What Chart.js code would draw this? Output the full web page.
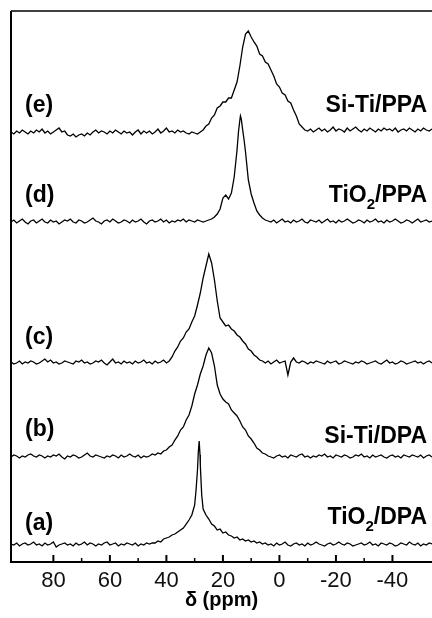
<!DOCTYPE html>
<html>
<head>
<meta charset="utf-8">
<script src="https://cdn.jsdelivr.net/npm/chart.js@4.4.0/dist/chart.umd.min.js"></script>
<style>
  html, body { margin: 0; padding: 0; background: #fff; }
</style>
</head>
<body>
<canvas id="nmrChart" width="432" height="618"></canvas>
<script>
// chemical shift grid, ppm (axis runs right to left)
const ppm = [
  95, 94, 93, 92, 91, 90, 89, 88, 87, 86, 85, 84, 83, 82, 81, 80, 79, 78, 77, 76,
  75, 74, 73, 72, 71, 70, 69, 68, 67, 66, 65, 64, 63, 62, 61, 60, 59, 58, 57, 56,
  55, 54, 53, 52, 51, 50, 49, 48, 47, 46, 45, 44, 43, 42, 41, 40, 39, 38, 37, 36,
  35, 34, 33, 32, 31, 30, 29, 28, 27, 26, 25, 24, 23, 22, 21, 20, 19, 18, 17, 16,
  15, 14, 13, 12, 11, 10, 9, 8, 7, 6, 5, 4, 3, 2, 1, 0, -1, -2, -3, -4,
  -5, -6, -7, -8, -9, -10, -11, -12, -13, -14, -15, -16, -17, -18, -19, -20, -21, -22, -23, -24,
  -25, -26, -27, -28, -29, -30, -31, -32, -33, -34, -35, -36, -37, -38, -39, -40, -41, -42, -43, -44,
  -45, -46, -47, -48, -49, -50, -51, -52, -53, -54
]

// intensities (same units as the stacked y axis)
const specA = [
  1, 0, 2, -1, 1, 2, 0, 1, 3, 0, 1, -1, 2, 0, 1, 3, -2, 0, 1, 2,
  0, 1, -1, 2, 0, 1, 3, 0, 2, 1, -1, 1, 0, 2, 3, 0, 1, 2, -1, 1,
  0, 2, 1, 0, 2, -1, 1, 0, 2,
  1, 2, 2, 4, 3, 6, 7, 8, 10, 11, 13, 15, 17, 21, 25, 30, 40, 75, 80, 36,
  30, 26, 21, 19, 15, 16, 12, 13, 10, 9, 7, 8, 5, 6, 4, 5, 3, 4, 2, 3,
  1, 2,
  0, 1, -1, 2, 0, 1, 3, 0, -1, 1, 2, 0, 1, -1, 2, 0, 1, 3, 1, 0,
  -1, 1, 2, 0, 1, 3, 1, 0, 2, 1, -1, 0, 1, 2, 0, 1, 3, 0, 1, -1,
  2, 1, 0, 2, 1, -1, 0, 2, 1, 0, 3, 1, 0, 2, -1, 1, 0, 2, 1
]
const specB = [
  0, 2, 1, -1, 1, 0, 2, 3, 1, 0, 2, 1, -1, 1, 0, 2, 1, 3, 0, -2,
  1, 0, 2, 1, -1, 0, 2, 4, 1, 0, 2, 1, 0, -1, 1, 0, 2, 1, -1, 2,
  0, 1, 3, 1, 0, 2, -1, 1, 0,
  1, 3, 2, 4, 3, 6, 7, 10, 12, 17, 21, 27, 30, 37, 42, 51, 63, 72, 83, 91,
  102, 109, 104, 91, 72, 63, 58, 55, 53, 47, 44, 41, 36, 30, 27, 21, 18, 14, 9, 7,
  4, 3, 1,
  0, -1, 1, 2, 0, 1, -1, 2, 1, 0, 2, 3, 0, 1, -1, 1, 0, 2, 1, 3,
  0, 1, -1, 2, 1, 0, 2, 1, -1, 0, 2, 1, 3, 0, 1, -1, 2, 0, 1, 2,
  0, -1, 1, 2, 0, 1, -1, 2, 1, 0, 2, 1, 0, 2, -1, 1, 2, 0
]
const specC = [
  1, -1, 0, 2, -1, 1, 0, 2, 1, -1, 0, 2, 4, 1, 3, 0, 1, -1, 0, 2,
  1, 0, -1, 2, 1, 3, 0, 1, -1, 0, 2, 1, 3, 0, -2, 1, 4, 0, 1, -1,
  2, 0, 1, -1, 2, 0, 1, 3, 0, 1, -1, 2, 0, 1, 3, 0,
  2, 6, 12, 16, 22, 25, 31, 34, 41, 47, 58, 70, 85, 97, 109, 100, 83, 62, 45, 41,
  37, 38, 34, 32, 28, 26, 22, 19, 14, 12, 8, 6, 3, 2,
  0, 2, -1, 1, 3, 0, 1, 2, -12, 1, 5, 1, 0, 2, 1, -1, 1, 0, 2, 1,
  0, -1, 2, 0, 1, 2, -1, 0, 2, 1, 0, -1, 1, 0, 2, 1, -1, 0, 1, 2,
  0, -1, 1, 3, 0, 1, -1, 0, 2, 1, -1, 0, 1, 2, 0, 1, -1, 1, 2, 0
]
const specD = [
  0, 2, -1, 1, 3, 0, -2, 1, 2, -1, 1, 3, 0, -1, 2, 0, 1, -2, 0, 2,
  1, 3, 0, -1, 2, 1, -1, 0, 2, 4, 1, 0, -2, 1, 2, 0, 3, 1, -1, 0,
  2, 1, -1, 2, 0, 1, 3, 0, -2, 1, 2, 0, 1, 3, 0, 2, -1, 1, 0, 2,
  1, 3, 0, 2, 1, 0, 2, 1, 0, 1,
  2, 3, 5, 8, 13, 24, 27, 23, 29, 45, 72, 102, 92, 70, 42, 28, 19, 11, 7, 4,
  2,
  1, 0, 2, -1, 1, 3, 0, 1, -1, 2, 0, 1, 3, 0, -1, 2, 1, 0, 2, -1,
  1, 3, 0, 1, -1, 2, 0, 1, 3, 1, -1, 0, 2, 1, -1, 2, 0, 1, 3, 0,
  1, -1, 2, 0, 1, 3, 1, -1, 0, 2, 1, -1, 1, 3, 0, 1, 2, 0, 1
]
const specE = [
  1, -1, 2, 0, 3, 1, -1, 2, 0, 3, 1, 4, 0, 2, -1, 1, 3, 5, 1, 2,
  -2, -3, -1, -4, -2, -1, -3, 0, -2, 1, 3, 0, 2, 1, -1, 2, 0, 3, 1, -1,
  2, 0, 1, -2, 1, 3, -1, 2, 0, 2, -1, 1, 4, 0, 2, 5, 1, 2, 0, 3,
  1, 2, 0, -1, 1, 0, -1, 1,
  3, 7, 9, 15, 18, 25, 27, 31, 31, 35, 35, 43, 51, 67, 86, 99, 102, 96, 91, 87,
  79, 77, 71, 69, 63, 57, 49, 46, 40, 38, 32, 30, 23, 17, 9, 6, 3,
  2, 4, 1, 3, 5, 2, 4, 1, 3, 6, 2, 4, 3, 1, 5, 2, 4, 6, 3, 1,
  4, 2, 5, 3, 1, 4, 2, 5, 3, 4, 2, 5, 1, 3, 4, 2, 5, 3, 1, 4,
  2, 5, 3, 2, 4
]

// extra samples across the two narrow lines
const extraPpmA = [30.5, 29.5, 28.7, 28.4, 28.1, 27.5]
const extraIntA = [35, 55, 93, 104, 90, 50]
const extraPpmD = [14.5, 13.8, 13.5, 12.5]
const extraIntD = [90, 106, 103, 82]

// vertical stacking of the five spectra, bottom (a) to top (e)
const stackOffset = [17, 105, 199, 340, 429]
const sampleTags = ['(a)', '(b)', '(c)', '(d)', '(e)']
const sampleNames = ['TiO\u2082/DPA', 'Si-Ti/DPA', '', 'TiO\u2082/PPA', 'Si-Ti/PPA']
const xTickLabels = [80, 60, 40, 20, 0, -20, -40]

function buildPoints(values, offset, extraPpm, extraInt) {
  const pts = ppm.map((p, i) => ({ x: p, y: offset + values[i] }))
  if (extraPpm) {
    extraPpm.forEach((p, i) => pts.push({ x: p, y: offset + extraInt[i] }))
  }
  pts.sort((a, b) => b.x - a.x)
  return pts
}

const spectra = [
  buildPoints(specA, stackOffset[0], extraPpmA, extraIntA),
  buildPoints(specB, stackOffset[1]),
  buildPoints(specC, stackOffset[2]),
  buildPoints(specD, stackOffset[3], extraPpmD, extraIntD),
  buildPoints(specE, stackOffset[4])
]

const FONT = "'Liberation Sans', Arial, sans-serif"

// left + top frame, inward ticks and the sample labels
const framePlugin = {
  id: 'frame',
  afterDraw(chart) {
    const ctx = chart.ctx
    const area = chart.chartArea
    const xs = chart.scales.x
    const ys = chart.scales.y
    ctx.save()
    ctx.strokeStyle = '#000'
    ctx.lineWidth = 2
    ctx.beginPath()
    ctx.moveTo(area.left, area.bottom)
    ctx.lineTo(area.left, area.top)
    ctx.stroke()
    ctx.lineWidth = 1.6
    ctx.beginPath()
    ctx.moveTo(area.left, area.top)
    ctx.lineTo(chart.width, area.top)
    ctx.stroke()

    xs.ticks.forEach(t => {
      const px = xs.getPixelForValue(t.value)
      const major = t.value % 20 === 0
      ctx.lineWidth = major ? 2 : 1.5
      ctx.beginPath()
      ctx.moveTo(px, area.bottom)
      ctx.lineTo(px, area.bottom - (major ? 7 : 4))
      ctx.stroke()
    })

    // label levels in y-axis units
    const tagLevel = [38, 132, 224, 366, 456]
    const nameLevel = [44, 125, 0, 366, 456]
    ctx.fillStyle = '#000'
    ctx.textBaseline = 'middle'
    sampleTags.forEach((tag, i) => {
      ctx.font = 'bold 23px ' + FONT
      ctx.textAlign = 'left'
      ctx.fillText(tag, area.left + 14, ys.getPixelForValue(tagLevel[i]))
    })
    sampleNames.forEach((name, i) => {
      if (!name) return
      const y = ys.getPixelForValue(nameLevel[i])
      const parts = name.split('\u2082')
      const big = 'bold 23px ' + FONT
      const small = 'bold 15px ' + FONT
      ctx.textAlign = 'left'
      let widths = parts.map(p => { ctx.font = big; return ctx.measureText(p).width })
      ctx.font = small
      const subW = parts.length > 1 ? ctx.measureText('2').width : 0
      const total = widths.reduce((s, w) => s + w, 0) + subW
      let x = 427 - total
      ctx.font = big
      ctx.fillText(parts[0], x, y)
      x += widths[0]
      if (parts.length > 1) {
        ctx.font = small
        ctx.fillText('2', x, y + 9)
        x += subW
        ctx.font = big
        ctx.fillText(parts[1], x, y)
      }
    })
    ctx.restore()
  }
}

const ctx = document.getElementById('nmrChart').getContext('2d')

new Chart(ctx, {
  type: 'line',
  data: {
    datasets: spectra.map((pts, i) => ({
      label: sampleTags[i],
      data: pts,
      borderColor: '#000',
      borderWidth: 1.3,
      pointRadius: 0,
      tension: 0,
      fill: false
    }))
  },
  options: {
    responsive: false,
    animation: false,
    layout: {
      padding: { left: 11, top: 11, right: 0, bottom: 0 }
    },
    plugins: {
      legend: { display: false },
      tooltip: { enabled: false }
    },
    scales: {
      x: {
        type: 'linear',
        reverse: true,
        min: -54,
        max: 95,
        afterBuildTicks: axis => {
          axis.ticks = axis.ticks.filter(t => t.value % 10 === 0)
        },
        afterFit: axis => {
          axis.height = 56
        },
        grid: { display: false, drawTicks: false },
        border: { display: true, color: '#000', width: 2 },
        ticks: {
          stepSize: 10,
          autoSkip: false,
          maxRotation: 0,
          padding: 6,
          color: '#111',
          font: { family: FONT, size: 22 },
          callback: value => xTickLabels.includes(value) ? String(value) : ''
        },
        title: {
          display: true,
          text: 'δ (ppm)',
          color: '#000',
          padding: { top: 0, bottom: 6 },
          font: { family: FONT, size: 20, weight: 'bold' }
        }
      },
      y: {
        display: false,
        min: 0,
        max: 551
      }
    }
  },
  plugins: [framePlugin]
})
</script>
</body>
</html>
